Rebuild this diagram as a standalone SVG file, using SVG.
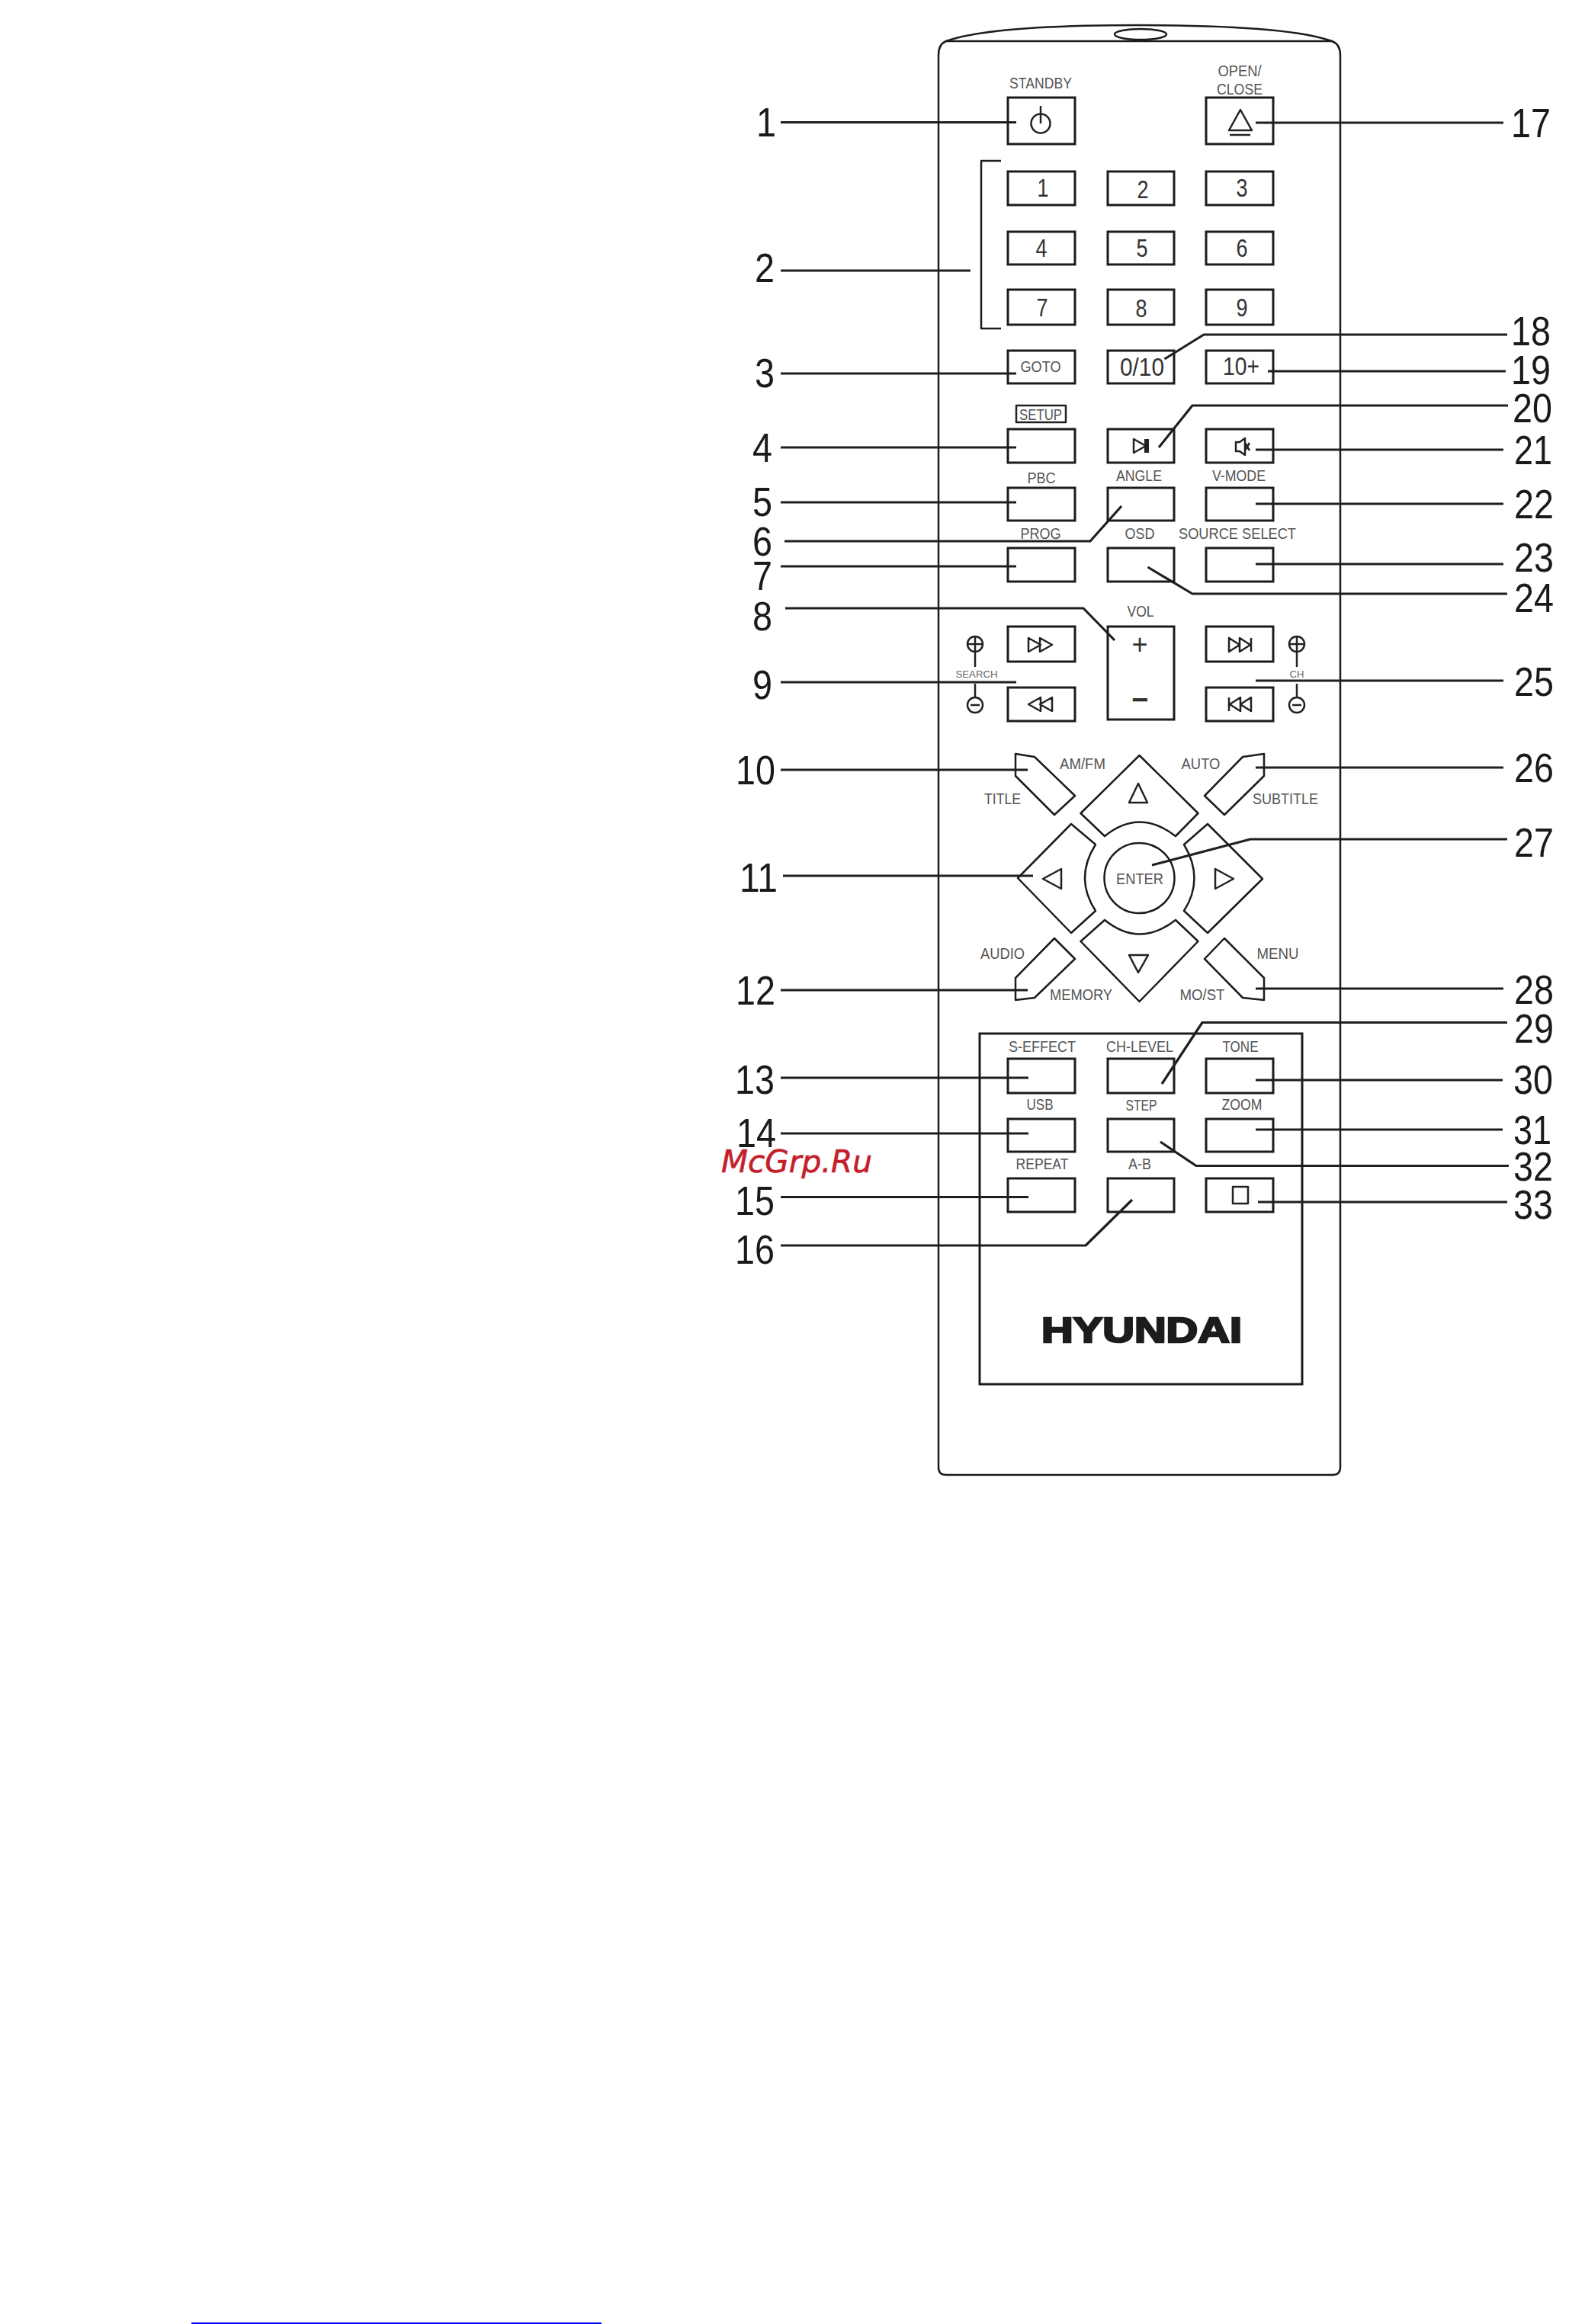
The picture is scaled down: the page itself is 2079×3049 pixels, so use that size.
<svg xmlns="http://www.w3.org/2000/svg" width="2079" height="3049" viewBox="0 0 2079 3049">
<style>
.o{fill:none;stroke:#1c1c1c;stroke-width:2.5;stroke-linejoin:round}
.b{fill:none;stroke:#1c1c1c;stroke-width:3}
.i{fill:none;stroke:#222;stroke-width:2.5;stroke-linejoin:round}
.f{fill:#222;stroke:none}
.c path{fill:none;stroke:#1f1f1f;stroke-width:3.2;stroke-linejoin:round}
text{font-family:"Liberation Sans",Arial,sans-serif}
.l{font-size:21px;fill:#555;text-anchor:middle}
.d{font-size:33px;fill:#333;text-anchor:middle}
.s{font-size:13px;fill:#666;text-anchor:middle}
.n{font-size:54px;fill:#1a1a1a}
</style>
<rect width="2079" height="3049" fill="#fff"/>
<g id="remote-body">
<path class="o" d="M1231 1925V72Q1231 58 1241 54Q1300 33 1494 33Q1690 33 1747 54Q1758 58 1758 72V1925Q1758 1935 1748 1935H1241Q1231 1935 1231 1925Z"/>
<path class="o" d="M1241 54H1748"/>
<ellipse class="o" cx="1496" cy="45" rx="34" ry="7"/>
<rect id="lower-panel" class="b" x="1285" y="1356" width="423" height="460"/>
</g>
<path id="keypad-bracket" class="o" d="M1313 211H1287V431H1313"/>
<g id="btn-standby"><rect class="b" x="1322" y="128" width="88" height="61"/><circle class="i" cx="1365" cy="162" r="12.5"/><path class="i" d="M1365 139V162"/><text class="l" x="1365" y="116" textLength="82" lengthAdjust="spacingAndGlyphs">STANDBY</text></g>
<g id="btn-open-close"><rect class="b" x="1582" y="128" width="88" height="61"/><path class="i" d="M1627 144L1642 171H1612Z"/><path class="i" d="M1613 177H1640"/><text class="l" x="1626" y="100" textLength="57" lengthAdjust="spacingAndGlyphs">OPEN/</text><text class="l" x="1626" y="124" textLength="60" lengthAdjust="spacingAndGlyphs">CLOSE</text></g>
<g id="btn-1"><rect class="b" x="1322" y="225" width="88" height="44"/><text class="d" x="1368" y="258" textLength="15" lengthAdjust="spacingAndGlyphs">1</text></g>
<g id="btn-2"><rect class="b" x="1453" y="225" width="87" height="44"/><text class="d" x="1499" y="260" textLength="15" lengthAdjust="spacingAndGlyphs">2</text></g>
<g id="btn-3"><rect class="b" x="1582" y="225" width="88" height="44"/><text class="d" x="1629" y="258" textLength="15" lengthAdjust="spacingAndGlyphs">3</text></g>
<g id="btn-4"><rect class="b" x="1322" y="304" width="88" height="43"/><text class="d" x="1366" y="337" textLength="15" lengthAdjust="spacingAndGlyphs">4</text></g>
<g id="btn-5"><rect class="b" x="1453" y="304" width="87" height="43"/><text class="d" x="1498" y="337" textLength="15" lengthAdjust="spacingAndGlyphs">5</text></g>
<g id="btn-6"><rect class="b" x="1582" y="304" width="88" height="43"/><text class="d" x="1629" y="337" textLength="15" lengthAdjust="spacingAndGlyphs">6</text></g>
<g id="btn-7"><rect class="b" x="1322" y="380" width="88" height="46"/><text class="d" x="1367" y="415" textLength="15" lengthAdjust="spacingAndGlyphs">7</text></g>
<g id="btn-8"><rect class="b" x="1453" y="380" width="87" height="46"/><text class="d" x="1497" y="416" textLength="15" lengthAdjust="spacingAndGlyphs">8</text></g>
<g id="btn-9"><rect class="b" x="1582" y="380" width="88" height="46"/><text class="d" x="1629" y="415" textLength="15" lengthAdjust="spacingAndGlyphs">9</text></g>
<g id="btn-goto"><rect class="b" x="1322" y="460" width="88" height="43"/><text class="l" x="1365" y="488" textLength="53" lengthAdjust="spacingAndGlyphs">GOTO</text></g>
<g id="btn-0-10"><rect class="b" x="1453" y="460" width="87" height="43"/><text class="d" x="1498" y="493" textLength="58" lengthAdjust="spacingAndGlyphs">0/10</text></g>
<g id="btn-10-plus"><rect class="b" x="1582" y="460" width="88" height="43"/><text class="d" x="1628" y="492" textLength="48" lengthAdjust="spacingAndGlyphs">10+</text></g>
<g id="btn-setup"><rect class="b" x="1322" y="563" width="88" height="44"/><rect class="i" x="1333" y="532" width="65" height="22"/><text class="l" x="1365" y="551" textLength="56" lengthAdjust="spacingAndGlyphs">SETUP</text></g>
<g id="btn-play-pause"><rect class="b" x="1453" y="563" width="87" height="44"/><path class="i" d="M1487 576L1503 585L1487 594Z"/><rect class="f" x="1501" y="576" width="6" height="18"/></g>
<g id="btn-mute"><rect class="b" x="1582" y="563" width="88" height="44"/><path class="i" d="M1621 580H1626L1633 575V597L1626 592H1621Z"/><path class="i" d="M1633 581L1639 591M1639 581L1633 591"/></g>
<g id="btn-pbc"><rect class="b" x="1322" y="640" width="88" height="43"/><text class="l" x="1366" y="634" textLength="37" lengthAdjust="spacingAndGlyphs">PBC</text></g>
<g id="btn-angle"><rect class="b" x="1453" y="640" width="87" height="43"/><text class="l" x="1494" y="631" textLength="60" lengthAdjust="spacingAndGlyphs">ANGLE</text></g>
<g id="btn-v-mode"><rect class="b" x="1582" y="640" width="88" height="43"/><text class="l" x="1625" y="631" textLength="70" lengthAdjust="spacingAndGlyphs">V-MODE</text></g>
<g id="btn-prog"><rect class="b" x="1322" y="719" width="88" height="44"/><text class="l" x="1365" y="707" textLength="53" lengthAdjust="spacingAndGlyphs">PROG</text></g>
<g id="btn-osd"><rect class="b" x="1453" y="719" width="87" height="44"/><text class="l" x="1495" y="707" textLength="39" lengthAdjust="spacingAndGlyphs">OSD</text></g>
<g id="btn-source-select"><rect class="b" x="1582" y="719" width="88" height="44"/><text class="l" x="1623" y="707" textLength="154" lengthAdjust="spacingAndGlyphs">SOURCE SELECT</text></g>
<g id="btn-vol"><rect class="b" x="1453" y="822" width="87" height="122"/><text class="l" x="1496" y="809" textLength="35" lengthAdjust="spacingAndGlyphs">VOL</text><text class="d" x="1495" y="858" style="font-size:36px">+</text><text class="d" x="1495" y="931" style="font-size:38px;font-weight:700">−</text></g>
<g id="btn-search-plus"><rect class="b" x="1322" y="822" width="88" height="46"/><path class="i" d="M1349 837L1365 846L1349 855ZM1364 837L1380 846L1364 855Z"/></g>
<g id="btn-search-minus"><rect class="b" x="1322" y="902" width="88" height="44"/><path class="i" d="M1380 915L1364 924L1380 933ZM1365 915L1349 924L1365 933Z"/></g>
<g id="search-rocker"><circle class="i" cx="1279" cy="845" r="10"/><path class="i" d="M1269 845H1289M1279 835V875M1279 897V915"/><circle class="i" cx="1279" cy="925" r="10"/><path class="i" d="M1273 925H1285"/><text class="s" x="1281" y="889" textLength="55" lengthAdjust="spacingAndGlyphs">SEARCH</text></g>
<g id="btn-ch-next"><rect class="b" x="1582" y="822" width="88" height="46"/><path class="i" d="M1612 837L1626 846L1612 855ZM1626 837L1640 846L1626 855ZM1641 837V855"/></g>
<g id="btn-ch-prev"><rect class="b" x="1582" y="902" width="88" height="44"/><path class="i" d="M1641 915L1627 924L1641 933ZM1627 915L1613 924L1627 933ZM1612 915V933"/></g>
<g id="ch-rocker"><circle class="i" cx="1701" cy="845" r="10"/><path class="i" d="M1691 845H1711M1701 835V875M1701 897V915"/><circle class="i" cx="1701" cy="925" r="10"/><path class="i" d="M1695 925H1707"/><text class="s" x="1701" y="889">CH</text></g>
<g id="btn-title"><path class="o" d="M1332 989L1357 993L1410 1044L1383 1069L1332 1018Z"/><text class="l" x="1420" y="1009" textLength="60" lengthAdjust="spacingAndGlyphs">AM/FM</text><text class="l" x="1315" y="1055" textLength="48" lengthAdjust="spacingAndGlyphs">TITLE</text></g>
<g id="btn-subtitle"><path class="o" d="M1658 989L1630 993L1580 1044L1606 1069L1658 1018Z"/><text class="l" x="1575" y="1009" textLength="51" lengthAdjust="spacingAndGlyphs">AUTO</text><text class="l" x="1686" y="1055" textLength="86" lengthAdjust="spacingAndGlyphs">SUBTITLE</text></g>
<g id="btn-audio"><path class="o" d="M1332 1312L1357 1309L1410 1258L1383 1231L1332 1283Z"/><text class="l" x="1315" y="1258" textLength="58" lengthAdjust="spacingAndGlyphs">AUDIO</text><text class="l" x="1418" y="1312" textLength="82" lengthAdjust="spacingAndGlyphs">MEMORY</text></g>
<g id="btn-menu"><path class="o" d="M1658 1312L1630 1309L1580 1258L1606 1231L1658 1283Z"/><text class="l" x="1676" y="1258" textLength="55" lengthAdjust="spacingAndGlyphs">MENU</text><text class="l" x="1577" y="1312" textLength="59" lengthAdjust="spacingAndGlyphs">MO/ST</text></g>
<g id="btn-up"><path class="o" d="M1494.5 991L1571.5 1067L1542 1097Q1494.5 1060 1449 1097L1417.5 1067Z"/><path class="i" d="M1493 1028L1505 1053H1481Z"/></g>
<g id="btn-down"><path class="o" d="M1494.5 1314L1571.5 1235L1542 1207Q1494.5 1244 1449 1207L1417.5 1235Z"/><path class="i" d="M1481 1253H1506L1493 1276Z"/></g>
<g id="btn-left"><path class="o" d="M1335 1152L1405 1081L1437 1108Q1409 1152 1437 1195L1405 1224Z"/><path class="i" d="M1368 1153L1392 1140V1166Z"/></g>
<g id="btn-right"><path class="o" d="M1656 1153L1584 1081L1553 1108Q1580 1153 1553 1195L1584 1224Z"/><path class="i" d="M1594 1140L1618 1153L1594 1166Z"/></g>
<g id="btn-enter"><circle class="o" cx="1494.5" cy="1152" r="46"/><text class="l" x="1495" y="1160" textLength="62" lengthAdjust="spacingAndGlyphs">ENTER</text></g>
<g id="btn-s-effect"><rect class="b" x="1322" y="1389" width="88" height="45"/><text class="l" x="1367" y="1380" textLength="88" lengthAdjust="spacingAndGlyphs">S-EFFECT</text></g>
<g id="btn-ch-level"><rect class="b" x="1453" y="1389" width="87" height="45"/><text class="l" x="1495" y="1380" textLength="88" lengthAdjust="spacingAndGlyphs">CH-LEVEL</text></g>
<g id="btn-tone"><rect class="b" x="1582" y="1389" width="88" height="45"/><text class="l" x="1627" y="1380" textLength="47" lengthAdjust="spacingAndGlyphs">TONE</text></g>
<g id="btn-usb"><rect class="b" x="1322" y="1468" width="88" height="43"/><text class="l" x="1364" y="1456" textLength="35" lengthAdjust="spacingAndGlyphs">USB</text></g>
<g id="btn-step"><rect class="b" x="1453" y="1468" width="87" height="43"/><text class="l" x="1497" y="1457" textLength="41" lengthAdjust="spacingAndGlyphs">STEP</text></g>
<g id="btn-zoom"><rect class="b" x="1582" y="1468" width="88" height="43"/><text class="l" x="1629" y="1456" textLength="53" lengthAdjust="spacingAndGlyphs">ZOOM</text></g>
<g id="btn-repeat"><rect class="b" x="1322" y="1546" width="88" height="44"/><text class="l" x="1367" y="1534" textLength="69" lengthAdjust="spacingAndGlyphs">REPEAT</text></g>
<g id="btn-a-b"><rect class="b" x="1453" y="1546" width="87" height="44"/><text class="l" x="1495" y="1534" textLength="30" lengthAdjust="spacingAndGlyphs">A-B</text></g>
<g id="btn-stop"><rect class="b" x="1582" y="1546" width="88" height="44"/><rect class="i" x="1617" y="1557" width="20" height="22" stroke-width="3"/></g>
<g id="logo"><text x="1366" y="1761" font-size="47" font-weight="700" textLength="263" lengthAdjust="spacingAndGlyphs" fill="#1c1c1c" stroke="#1c1c1c" stroke-width="2.5">HYUNDAI</text></g>
<g id="watermark"><text x="946" y="1538" font-size="40" font-style="italic" fill="#c4202c" stroke="#c4202c" stroke-width="0.6" style="font-family:'DejaVu Sans',sans-serif" textLength="198" lengthAdjust="spacingAndGlyphs">McGrp.Ru</text></g>
<g id="connectors" class="c">
<path d="M1024 160.5H1333"/>
<path d="M1024 355H1273"/>
<path d="M1024 490H1333"/>
<path d="M1024 587H1333"/>
<path d="M1024 659H1333"/>
<path d="M1029 710H1430L1471 664"/>
<path d="M1024 743H1333"/>
<path d="M1030 798H1421L1462 840"/>
<path d="M1024 895H1333"/>
<path d="M1024 1010H1348"/>
<path d="M1027 1149H1355"/>
<path d="M1024 1299H1348"/>
<path d="M1024 1414H1349"/>
<path d="M1024 1487H1349"/>
<path d="M1024 1570.5H1349"/>
<path d="M1024 1634H1424L1485 1574"/>
<path d="M1647 161H1972"/>
<path d="M1527.5 471L1579 439H1977"/>
<path d="M1663 487H1975"/>
<path d="M1520 587L1564 532H1978"/>
<path d="M1647 590H1972"/>
<path d="M1647 661H1972"/>
<path d="M1647 740H1972"/>
<path d="M1505.5 744L1564 779H1977"/>
<path d="M1647 893H1972"/>
<path d="M1647 1007H1972"/>
<path d="M1511 1135L1640 1101H1977"/>
<path d="M1647 1297H1972"/>
<path d="M1524 1422L1577 1341.5H1977"/>
<path d="M1647 1417H1971"/>
<path d="M1647 1482H1971"/>
<path d="M1522 1498L1569 1529.5H1979"/>
<path d="M1650 1577H1977"/>
</g>
<g id="callouts" class="n" transform="translate(2 2)">
<text x="990" y="177" textLength="26" lengthAdjust="spacingAndGlyphs">1</text>
<text x="988" y="368" textLength="26" lengthAdjust="spacingAndGlyphs">2</text>
<text x="988" y="506" textLength="26" lengthAdjust="spacingAndGlyphs">3</text>
<text x="985" y="604" textLength="26" lengthAdjust="spacingAndGlyphs">4</text>
<text x="985" y="675" textLength="26" lengthAdjust="spacingAndGlyphs">5</text>
<text x="985" y="727" textLength="26" lengthAdjust="spacingAndGlyphs">6</text>
<text x="985" y="772" textLength="26" lengthAdjust="spacingAndGlyphs">7</text>
<text x="985" y="825" textLength="26" lengthAdjust="spacingAndGlyphs">8</text>
<text x="985" y="915" textLength="26" lengthAdjust="spacingAndGlyphs">9</text>
<text x="963" y="1027" textLength="52" lengthAdjust="spacingAndGlyphs">10</text>
<text x="968" y="1168" textLength="50" lengthAdjust="spacingAndGlyphs">11</text>
<text x="963" y="1316" textLength="52" lengthAdjust="spacingAndGlyphs">12</text>
<text x="962" y="1433" textLength="52" lengthAdjust="spacingAndGlyphs">13</text>
<text x="964" y="1503" textLength="52" lengthAdjust="spacingAndGlyphs">14</text>
<text x="962" y="1592" textLength="52" lengthAdjust="spacingAndGlyphs">15</text>
<text x="962" y="1656" textLength="52" lengthAdjust="spacingAndGlyphs">16</text>
<text x="1980" y="178" textLength="52" lengthAdjust="spacingAndGlyphs">17</text>
<text x="1980" y="451" textLength="52" lengthAdjust="spacingAndGlyphs">18</text>
<text x="1980" y="502" textLength="52" lengthAdjust="spacingAndGlyphs">19</text>
<text x="1982" y="552" textLength="52" lengthAdjust="spacingAndGlyphs">20</text>
<text x="1984" y="607" textLength="50" lengthAdjust="spacingAndGlyphs">21</text>
<text x="1984" y="678" textLength="52" lengthAdjust="spacingAndGlyphs">22</text>
<text x="1984" y="748" textLength="52" lengthAdjust="spacingAndGlyphs">23</text>
<text x="1984" y="801" textLength="52" lengthAdjust="spacingAndGlyphs">24</text>
<text x="1984" y="911" textLength="52" lengthAdjust="spacingAndGlyphs">25</text>
<text x="1984" y="1024" textLength="52" lengthAdjust="spacingAndGlyphs">26</text>
<text x="1984" y="1122" textLength="52" lengthAdjust="spacingAndGlyphs">27</text>
<text x="1984" y="1315" textLength="52" lengthAdjust="spacingAndGlyphs">28</text>
<text x="1984" y="1366" textLength="52" lengthAdjust="spacingAndGlyphs">29</text>
<text x="1983" y="1433" textLength="52" lengthAdjust="spacingAndGlyphs">30</text>
<text x="1983" y="1499" textLength="50" lengthAdjust="spacingAndGlyphs">31</text>
<text x="1983" y="1547" textLength="52" lengthAdjust="spacingAndGlyphs">32</text>
<text x="1983" y="1597" textLength="52" lengthAdjust="spacingAndGlyphs">33</text>
</g>
<rect id="page-rule" x="251" y="3047" width="538" height="2" fill="#0000ff"/>
</svg>
